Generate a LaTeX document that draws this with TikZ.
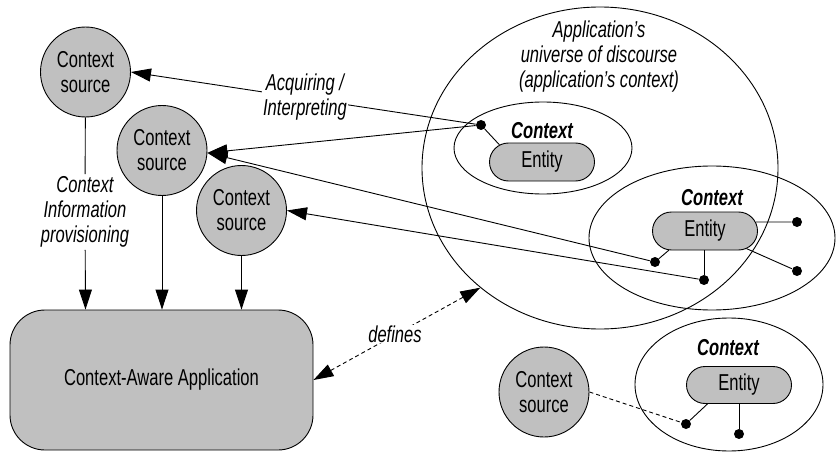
\documentclass[tikz,border=0pt]{standalone}
\usepackage{fontspec}
\setmainfont{Liberation Sans}[FakeStretch=0.72]
\usetikzlibrary{shapes.geometric,shapes.misc,arrows.meta}
\definecolor{boxgray}{RGB}{192,192,192}
\begin{document}
\begin{tikzpicture}[x=1pt,y=-1pt,
  every node/.style={font=\fontsize{23}{25}\selectfont},
  line width=0.9pt,
  src/.style={circle,draw,fill=boxgray,minimum size=90pt,inner sep=0pt,align=center},
  ent/.style={rounded rectangle,draw,fill=boxgray,minimum width=105pt,minimum height=38pt,inner sep=0pt},
  ctx/.style={ellipse,draw,inner sep=0pt},
  dot/.style={circle,fill=black,minimum size=10pt,inner sep=0pt},
  ctxlab/.style={font=\fontsize{23}{25}\selectfont\bfseries\itshape},
  lab/.style={font=\fontsize{23}{25}\selectfont\itshape,align=center,fill=white,inner sep=1pt},
  arr/.style={-{Triangle[length=20pt,width=13pt]}},
  dbl/.style={{Triangle[length=20pt,width=13pt]}-{Triangle[length=20pt,width=13pt]}},
  dsh/.style={dash pattern=on 4pt off 3pt},
]
\useasboundingbox (0,0) rectangle (839,452);

% universe of discourse
\node[ctx,minimum width=356pt,minimum height=322pt] (univ) at (600,168) {};
\node[font=\fontsize{23}{25}\selectfont\itshape,align=center] (ulab) at (599,57)
  {Application’s\\universe of discourse\\(application’s context)};

% top context
\node[ctx,minimum width=178pt,minimum height=92pt] (ctx1) at (543,148) {};
\node[ctxlab] (cl1) at (542,131) {Context};
\node[ent] (ent1) at (542,162) {Entity};
\node[dot] (d1) at (481,125) {};
\draw (d1) -- (ent1.158);

% middle context
\node[ctx,minimum width=246pt,minimum height=144pt] (ctx2) at (712,238) {};
\node[ctxlab] (cl2) at (712,198) {Context};
\node[ent] (ent2) at (705,231) {Entity};
\node[dot] (d4) at (797,222) {};
\node[dot] (d5) at (797,271) {};
\node[dot] (d6) at (655,262) {};
\node[dot] (d7) at (704,280) {};
\draw (d4) -- (ent2.10);
\draw (d5) -- (ent2.-23);
\draw (d6) -- (ent2.208);
\draw (d7) -- (d7 |- ent2.south);

% bottom context
\node[ctx,minimum width=188pt,minimum height=133pt] (ctx3) at (729,384.5) {};
\node[ctxlab] (cl3) at (728,348) {Context};
\node[ent,minimum height=37pt] (ent3) at (739,385) {Entity};
\node[dot] (d8) at (686,424) {};
\node[dot] (d9) at (739,434) {};
\draw (d8) -- (ent3.211);
\draw (d9) -- (d9 |- ent3.south);

% context sources
\node[src] (cs1) at (85.5,72) {Context\\source};
\node[src] (cs2) at (162,150.5) {Context\\source};
\node[src] (cs3) at (241.5,210.5) {Context\\source};
\node[src] (cs4) at (544,392) {Context\\source};

% application
\node[draw,fill=boxgray,rounded corners=35pt,minimum width=303pt,minimum height=140pt] (app) at (161.5,380) {Context-Aware Application};

% provisioning arrows
\node[lab,fill=none,inner sep=2pt] (prov) at (85,212) {Context\\Information\\provisioning};
\draw (cs1) -- (prov);
\draw[arr] (prov) -- (cs1 |- app.north);
\draw[arr] (cs2) -- (cs2 |- app.north);
\draw[arr] (cs3) -- (cs3 |- app.north);

% acquiring arrows
\draw[arr] (d1) -- (cs1.east);
\draw[arr] (d1) -- (cs2.-3);
\draw[arr] (d6) -- (cs2.-3);
\draw[arr] (d7) -- (cs3.east);
\node[lab] (acq) at (305,97) {Acquiring /\\Interpreting};

% defines
\draw[dbl,dsh] (app.east) -- (univ.225);
\node[lab] (def) at (395,334) {defines};

% unattached source
\draw[dsh] (cs4.east) -- (d8);
\end{tikzpicture}
\end{document}
